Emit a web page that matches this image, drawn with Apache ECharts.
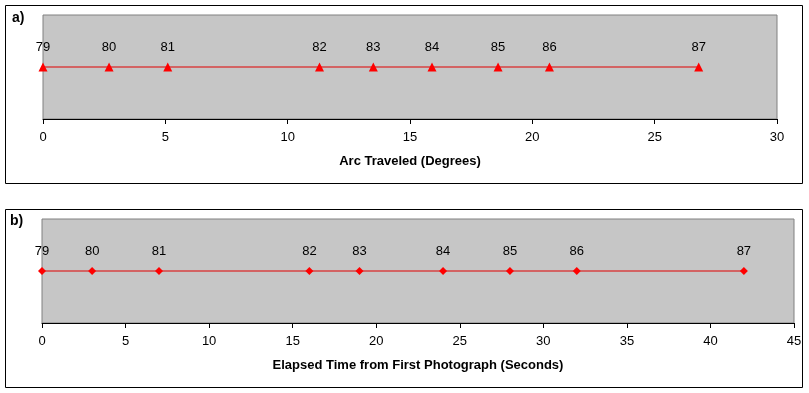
<!DOCTYPE html>
<html>
<head>
<meta charset="utf-8">
<script src="https://cdn.jsdelivr.net/npm/echarts@6/dist/echarts.min.js"></script>
<style>html,body{margin:0;padding:0;background:#fff}#c{width:809px;height:393px}</style>
</head>
<body>
<div id="c"></div>
<script>
var photoLabels = ['79','80','81','82','83','84','85','86','87'];
var arcDegrees = [0, 2.7, 5.1, 11.3, 13.5, 15.9, 18.6, 20.7, 26.8];
var elapsedSeconds = [0, 3, 7, 16, 19, 24, 28, 32, 42];
var arcTicks = [0, 5, 10, 15, 20, 25, 30];
var timeTicks = [0, 5, 10, 15, 20, 25, 30, 35, 40, 45];

var font = 'Arial, "Liberation Sans", sans-serif';
function mk(xs){ return xs.map(function(x,i){ return {value:[x,1], name:photoLabels[i]}; }); }

var chart = echarts.init(document.getElementById('c'), null, {renderer:'canvas'});
function xAxis(idx, max, name){
  return {
    type:'value', gridIndex:idx, min:0, max:max, interval:5,
    name:name, nameLocation:'middle', nameGap:36,
    nameTextStyle:{fontFamily:font, fontSize:13, fontWeight:'bold', color:'#000'},
    axisLine:{show:true, lineStyle:{color:'#000', width:1}},
    axisTick:{show:true, length:5, inside:false, lineStyle:{color:'#000'}},
    axisLabel:{fontFamily:font, fontSize:13, color:'#000', margin:12},
    splitLine:{show:false}
  };
}
function yAxis(idx){
  return {type:'value', gridIndex:idx, min:0, max:2, show:false};
}
function series(idx, data, sym, size){
  return {
    type:'line', xAxisIndex:idx, yAxisIndex:idx, data:data,
    symbol:sym, symbolSize:size, showAllSymbol:true,
    lineStyle:{color:'#e00000', width:1},
    itemStyle:{color:'#ff0000'},
    label:{show:true, position:'top', distance:9, formatter:'{b}',
      fontFamily:font, fontSize:13, color:'#000'},
    animation:false
  };
}
chart.setOption({
  animation:false,
  graphic:[
    {type:'rect', shape:{x:5.5, y:5.5, width:797, height:178}, style:{fill:'none', stroke:'#000', lineWidth:1}},
    {type:'rect', shape:{x:5.5, y:209.5, width:797, height:178}, style:{fill:'none', stroke:'#000', lineWidth:1}},
    {type:'text', left:12, top:11, style:{text:'a)', font:'bold 14px ' + font, fill:'#000'}},
    {type:'text', left:10, top:214, style:{text:'b)', font:'bold 14px ' + font, fill:'#000'}}
  ],
  grid:[
    {left:43, top:15, width:734, height:104, show:true, backgroundColor:'#c6c6c6', borderColor:'#808080', borderWidth:1},
    {left:42, top:219, width:752, height:104, show:true, backgroundColor:'#c6c6c6', borderColor:'#808080', borderWidth:1}
  ],
  xAxis:[xAxis(0, 30, 'Arc Traveled (Degrees)'), xAxis(1, 45, 'Elapsed Time from First Photograph (Seconds)')],
  yAxis:[yAxis(0), yAxis(1)],
  series:[series(0, mk(arcDegrees), 'triangle', 9), series(1, mk(elapsedSeconds), 'diamond', 8)]
});
</script>
</body>
</html>
